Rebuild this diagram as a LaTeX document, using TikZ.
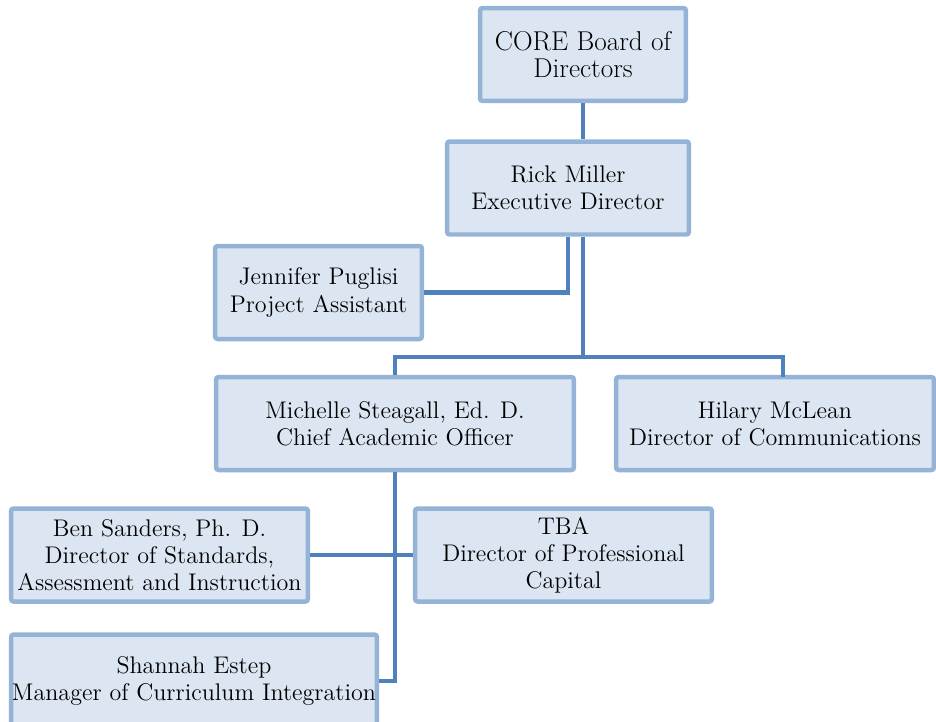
\documentclass[tikz,border=0pt]{standalone}
\usepackage{tikz}
\usetikzlibrary{positioning, calc}
\definecolor{boxline}{HTML}{95B3D7}
\definecolor{boxfill}{HTML}{DCE6F2}
\definecolor{linkblue}{HTML}{4F81BD}

\begin{document}
\begin{tikzpicture}[x=0.02cm, y=-0.02cm,
    person/.style={draw=boxline, fill=boxfill, line width=0.09cm, rounded corners=1.5pt,
        align=center, inner sep=0pt, minimum height=1.86cm,
        font=\fontsize{13.7}{15.4}\selectfont},
    link/.style={draw=linkblue, line width=0.09cm}]
    \useasboundingbox (0,0) rectangle (936,721);
    \clip (0,0) rectangle (936,721);

    % Junction points of the links
    \coordinate (split) at (583,357);
    \coordinate (hiltop) at (783,377);

    % Board and director
    \node[person, minimum width=4.12cm, font=\fontsize{15.5}{15.4}\selectfont] (core) at (583,54.5) {CORE Board of\\Directors};
    \node[person, minimum width=4.84cm] (rick) at (568,188) {Rick Miller\\Executive Director};
    \node[person, minimum width=4.14cm] (jen) at (318.5,292.5) {Jennifer Puglisi\\Project Assistant};

    % Second level
    \node[person, minimum width=7.16cm] (mich) at (395,423.5) {Michelle Steagall, Ed. D.\\Chief Academic Officer};
    \node[person, minimum width=6.36cm] (hil) at (775,423.5) {Hilary McLean\\Director of Communications};

    % Third level
    \node[person, minimum width=5.94cm] (ben) at (159.5,555) {Ben Sanders, Ph. D.\\Director of Standards,\\Assessment and Instruction};
    \node[person, minimum width=5.94cm] (tba) at (563.5,555) {TBA\\Director of Professional\\Capital};
    \node[person, minimum width=7.32cm] (shan) at (194,681) {Shannah Estep\\Manager of Curriculum Integration};

    % Connectors
    \draw[link] (core.south) -- (core.south |- rick.north);
    \draw[link] (rick.south) |- (jen.east);
    \draw[link] (rick.south -| split) -- (split);
    \draw[link] (mich.north) |- (split) -| (hiltop);
    \draw[link] (mich.south) |- (shan.east);
    \draw[link] (ben.east) -- (tba.west);
\end{tikzpicture}
\end{document}
